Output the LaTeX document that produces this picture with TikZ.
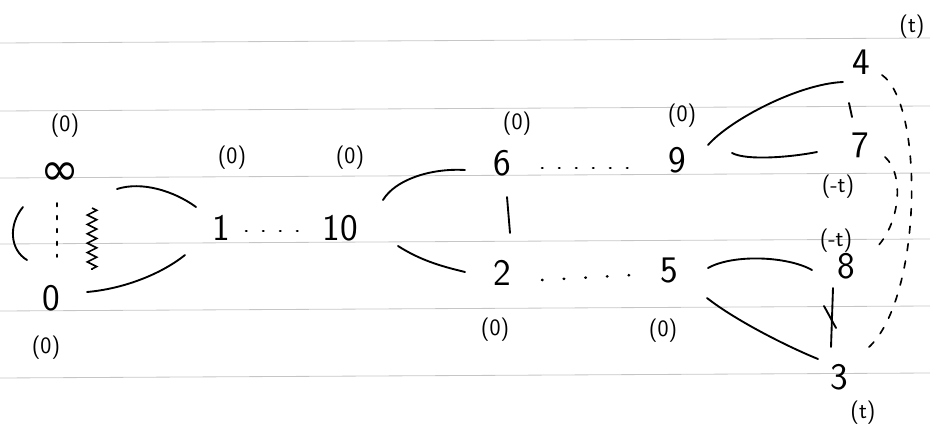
\documentclass[tikz,border=0pt]{standalone}
\usepackage{fontspec}
\newfontfamily\symbfont{DejaVu Sans}
\usepackage{tikz}
\usetikzlibrary{calc,decorations.pathmorphing}
\tikzset{
  num/.style={inner sep=1pt, font=\sffamily\fontsize{32}{34}\selectfont},
  lbl/.style={inner sep=1pt, font=\sffamily\fontsize{20}{22}\selectfont},
  edge/.style={line width=1.6pt, line cap=round},
  dotline/.style={line width=2.2pt, line cap=round, dash pattern=on 0.5pt off 14pt},
  vdots/.style={line width=1.6pt, line cap=round, dash pattern=on 3pt off 8pt},
  dashline/.style={line width=1.4pt, line cap=round, dash pattern=on 6pt off 9pt},
  ruled/.style={gray!45, line width=0.7pt},
  spring/.style={line width=1.4pt, decorate, decoration={zigzag, segment length=8pt, amplitude=4pt}}
}
\begin{document}
\begin{tikzpicture}[x=0.03cm, y=-0.03cm]
  \useasboundingbox (0,0) rectangle (930,430);
  \foreach \ry in {43,111,178,244,311,378}
    \draw[ruled] (0,\ry) -- (930,\ry-5);

  \node[lbl] (inftop) at (65,126) {(0)};
  \node[inner sep=0pt, font=\symbfont\fontsize{40}{40}\selectfont] (inf) at (60,174) {∞};
  \node[num] (zero) at (51,298) {0};
  \node[lbl] (zerobot) at (46,348) {(0)};
  \node[num] (one) at (221,228) {1};
  \node[num] (ten) at (340,228) {10};
  \node[lbl] (onetop) at (232,158) {(0)};
  \node[lbl] (tentop) at (350,158) {(0)};
  \node[num] (six) at (502,163) {6};
  \node[num] (nine) at (677,160) {9};
  \node[lbl] (sixtop) at (517,124) {(0)};
  \node[lbl] (ninetop) at (682,116) {(0)};
  \node[num] (two) at (502,273) {2};
  \node[num] (five) at (669,271) {5};
  \node[lbl] (twobot) at (495,330) {(0)};
  \node[lbl] (fivebot) at (663,331) {(0)};
  \node[num] (four) at (861,62) {4};
  \node[num] (seven) at (860,145) {7};
  \node[lbl] (fourtop) at (912,27) {(t)};
  \node[lbl] (sevenbot) at (838,187) {(-t)};
  \node[lbl] (eighttop) at (836,241) {(-t)};
  \node[num] (eight) at (846,266) {8};
  \node[num] (three) at (839,377) {3};
  \node[lbl] (threebot) at (863,413) {(t)};

  \draw[edge] (23,207) .. controls (8,225) and (10,250) .. (27,260);
  \draw[vdots] ($(inf)+(-3,29)$) -- ($(zero)+(6,-41)$);
  \draw[spring] ($(inf)+(32,34)$) -- ($(zero)+(41,-28)$);

  \draw[edge] ($(inf)+(57,15)$) .. controls +(25,-8) and +(-22,-16) .. ($(one)+(-25,-21)$);
  \draw[edge] ($(zero)+(36,-6)$) .. controls +(35,-3) and +(-25,20) .. ($(one)+(-36,27)$);
  \draw[dotline] ($(one)+(25,3)$) -- ($(ten)+(-37,3)$);
  \draw[edge] ($(ten)+(43,-28)$) .. controls +(12,-20) and +(-35,-2) .. ($(six)+(-37,7)$);
  \draw[edge] ($(ten)+(58,18)$) .. controls +(22,14) and +(-25,-6) .. ($(two)+(-37,-1)$);
  \draw[dotline] ($(six)+(40,5)$) -- ($(nine)+(-39,8)$);
  \draw[dotline, dash pattern=on 0.5pt off 18pt] ($(two)+(40,7)$) -- ($(five)+(-36,4)$);
  \draw[edge] ($(six)+(5,34)$) -- ($(two)+(8,-40)$);
  \draw[edge] ($(nine)+(31,-15)$) .. controls +(22,-25) and +(-45,2) .. ($(four)+(-18,20)$);
  \draw[edge] ($(nine)+(55,-7)$) .. controls +(15,8) and +(-25,5) .. ($(seven)+(-43,7)$);
  \draw[edge] ($(five)+(39,-3)$) .. controls +(25,-14) and +(-25,-14) .. ($(eight)+(-34,4)$);
  \draw[edge] ($(five)+(38,27)$) .. controls +(28,22) and +(-32,-13) .. ($(three)+(-21,-18)$);
  \draw[edge] ($(four)+(-12,41)$) -- ($(seven)+(-8,-28)$);
  \draw[edge] ($(eight)+(-13,22)$) -- ($(three)+(-8,-30)$);
  \draw[edge] ($(eight)+(-22,40)$) -- ($(eight)+(-10,62)$);
  \draw[dashline] ($(four)+(21,13)$) .. controls +(43,30) and +(54,-48) .. ($(three)+(29,-29)$);
  \draw[dashline] ($(seven)+(25,12)$) .. controls +(20,18) and +(25,-24) .. ($(eight)+(29,-17)$);
\end{tikzpicture}
\end{document}
